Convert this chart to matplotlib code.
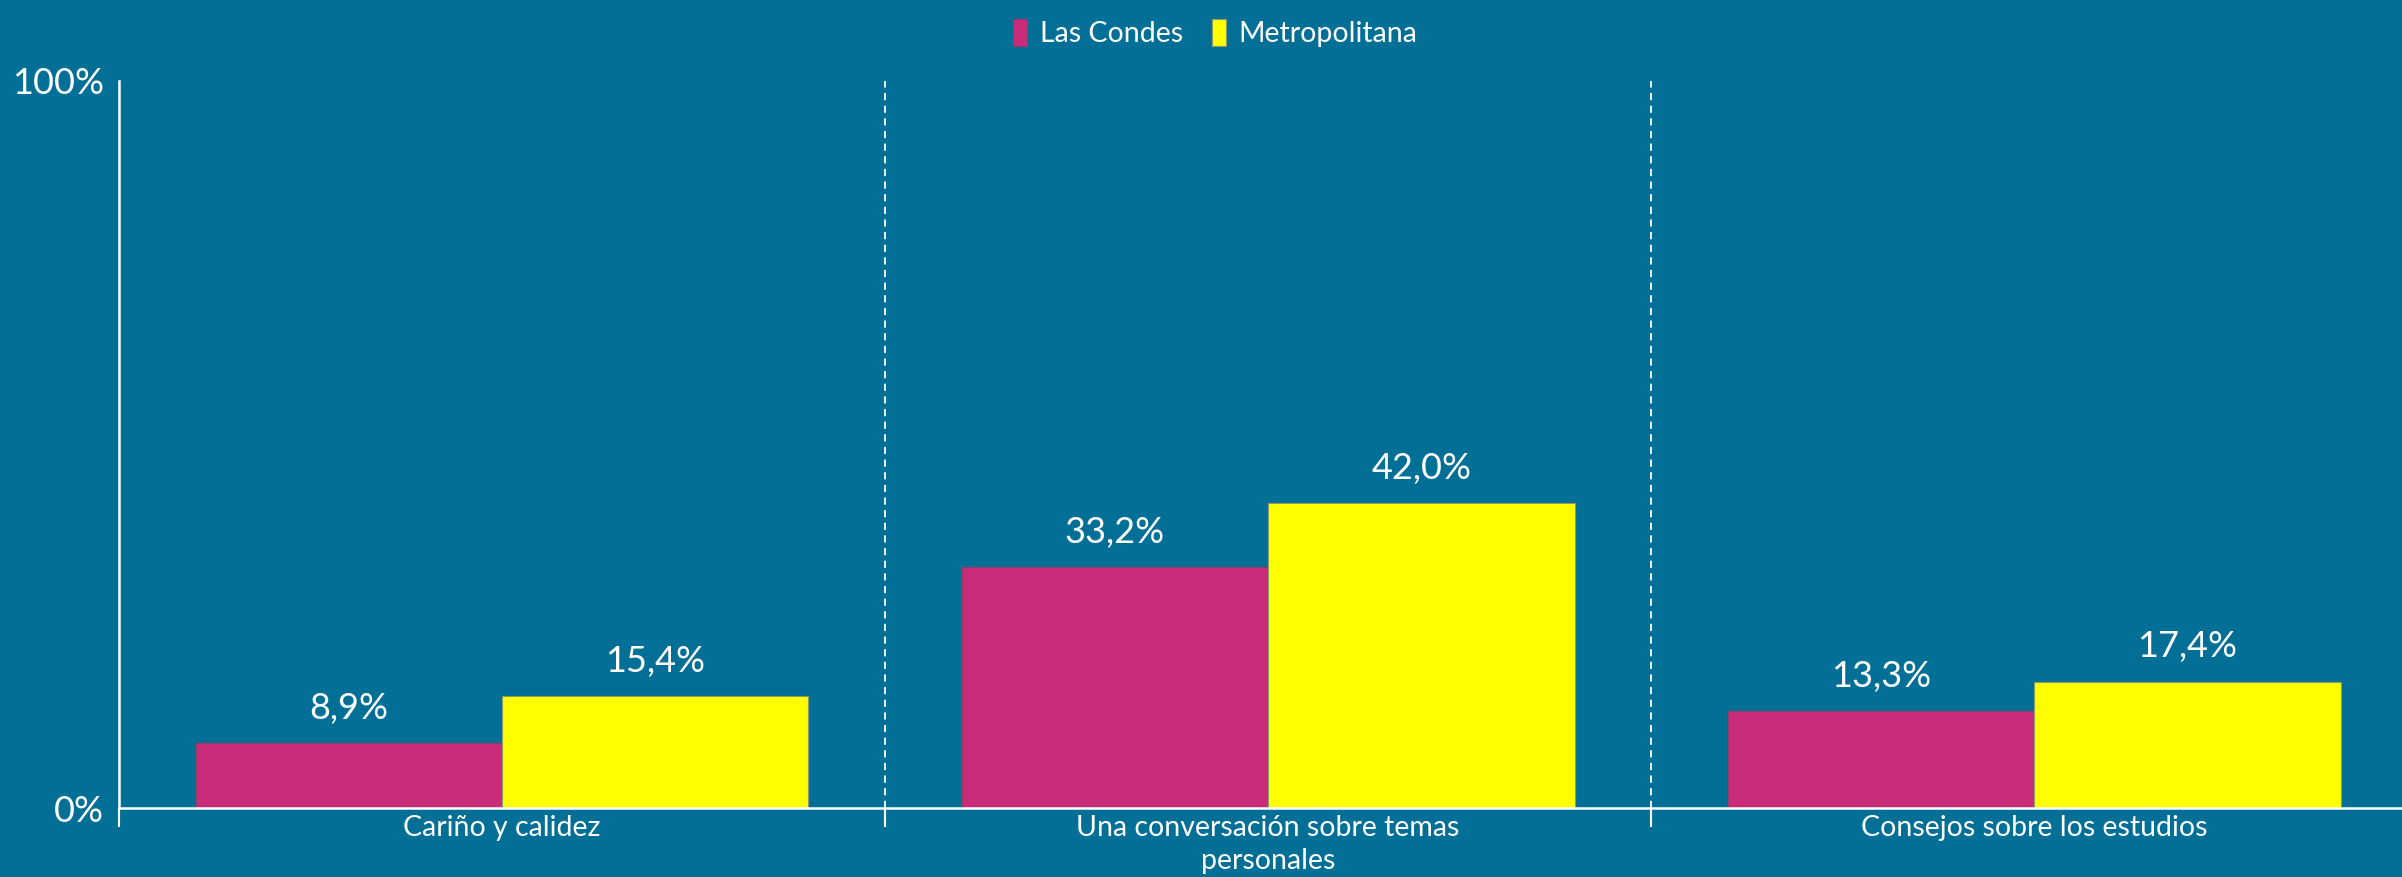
# ============================================
# 0) Import Libraries
# ============================================
import numpy as np
import matplotlib.pyplot as plt

plt.rcParams['font.family'] = ['Lato', 'DejaVu Sans']

# ============================================
# 1) Data
# ============================================
categories = ["Cariño y calidez",
              "Una conversación sobre temas\npersonales",
              "Consejos sobre los estudios"]
series_names = ["Las Condes", "Metropolitana"]
las_condes = [8.9, 33.2, 13.3]
metropolitana = [15.4, 42.0, 17.4]

# colors
bg = "#026F97"
pink = "#C92D79"
yellow = "#FFFF00"

# ============================================
# 2) Figure
# ============================================
fig = plt.figure(figsize=(24.02, 8.77), dpi=100, facecolor=bg)
ax = fig.add_axes([119 / 2402, 69 / 877, (2402 - 119) / 2402, 727 / 877])
ax.set_facecolor(bg)

x = np.arange(len(categories))
w = 0.4

b1 = ax.bar(x - w / 2, las_condes, w, color=pink, edgecolor="#9a3a6a",
            linewidth=0.8, label=series_names[0])
b2 = ax.bar(x + w / 2, metropolitana, w, color=yellow, edgecolor="#8f9a6a",
            linewidth=0.8, label=series_names[1])

# data labels
for bars, vals in [(b1, las_condes), (b2, metropolitana)]:
    for r, v in zip(bars, vals):
        ax.annotate(f"{v:.1f}%".replace(".", ","),
                    (r.get_x() + r.get_width() / 2, v),
                    xytext=(0, 13), textcoords="offset points",
                    ha="center", va="bottom", color="white", fontsize=26)

# dashed separators between categories
for s in [0.5, 1.5]:
    ax.axvline(s, color="white", linestyle=(0, (4, 3)), linewidth=1.3,
               ymin=0, ymax=1)

# ============================================
# 3) Axes styling
# ============================================
ax.set_xlim(-0.5, 2.48)
ax.set_ylim(0, 100)
ax.set_yticks([0, 100])
ax.set_yticklabels(["0%", "100%"])
ax.tick_params(axis="y", length=0, pad=11, labelsize=26, labelcolor="white")

ax.set_xticks(x)
ax.set_xticklabels(categories, linespacing=1.35)
ax.tick_params(axis="x", which="major", length=0, pad=5, labelsize=20.5,
               labelcolor="white")
ax.set_xticks([-0.5, 0.5, 1.5], minor=True)
ax.tick_params(axis="x", which="minor", length=14, width=1.5,
               color="white", direction="out")

for side in ["top", "right"]:
    ax.spines[side].set_visible(False)
for side in ["left", "bottom"]:
    ax.spines[side].set_color("white")
    ax.spines[side].set_linewidth(1.8)

# ============================================
# 4) Legend
# ============================================
leg = fig.legend(loc="upper center", bbox_to_anchor=(0.506, 1.008), ncol=2,
                 frameon=False, fontsize=20.5, labelcolor="white",
                 handlelength=0.5, handleheight=1.1, handletextpad=0.45,
                 columnspacing=1.0)

fig.savefig("out.png", dpi=100, facecolor=bg)
